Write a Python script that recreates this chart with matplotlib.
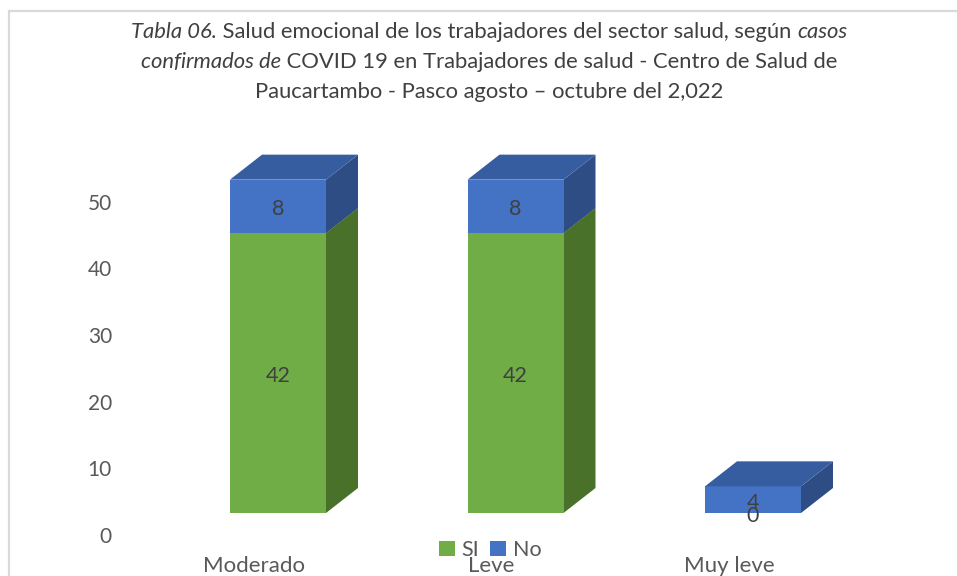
import matplotlib
matplotlib.use("Agg")
import matplotlib.pyplot as plt
from matplotlib.patches import Polygon, Rectangle, Patch

categories = ["Moderado", "Leve", "Muy leve"]
si_values = [42, 42, 0]
no_values = [8, 8, 4]
yticks = [0, 10, 20, 30, 40, 50]
series_names = ["SI", "No"]

FONT = "Lato"
W, H = 957, 576
fig = plt.figure(figsize=(W / 100, H / 100), dpi=100)
ax = fig.add_axes([0, 0, 1, 1])
# pixel mapping: category centre spacing 237.5 px, 6.667 px per unit
x0px, xs = 278.0, 237.5
y0px, ys = 513.0, 6.667
ax.set_xlim(-x0px / xs, (W - x0px) / xs)
ax.set_ylim((y0px - H) / ys, y0px / ys)
ax.axis("off")

bw = 96 / xs
ddx = 32 / xs
ddy = 25 / ys

colors = {
    "SI": ("#70ad47", "#4a7129", "#5a8c38"),
    "No": ("#4472c4", "#2f4d85", "#355d9f"),
}
txtc = "#404040"

for i, cat in enumerate(categories):
    bottom = 0
    for name, vals in (("SI", si_values), ("No", no_values)):
        v = vals[i]
        front, side, top = colors[name]
        xl, xr = i - bw / 2, i + bw / 2
        if v > 0:
            b, t = bottom, bottom + v
            ax.add_patch(Polygon([(xr, b), (xr + ddx, b + ddy), (xr + ddx, t + ddy), (xr, t)],
                                 closed=True, facecolor=side, edgecolor="none"))
            ax.add_patch(Rectangle((xl, b), bw, v, facecolor=front, edgecolor="none"))
            ax.add_patch(Polygon([(xl, t), (xr, t), (xr + ddx, t + ddy), (xl + ddx, t + ddy)],
                                 closed=True, facecolor=top, edgecolor="none"))
        ax.text(i, bottom + v / 2 - 3 / ys, str(v), ha="center", va="center", fontsize=15.5,
                color=txtc, family=FONT)
        bottom += v

# y tick labels (placed on the back wall)
tick_off = -24 / ys
for t in yticks:
    ax.text(-x0px / xs + 112 / xs, t + tick_off, str(t), ha="right", va="center",
            fontsize=15, color="#595959", family=FONT)

# category labels
for i, cat in enumerate(categories):
    ax.text(i - 24 / xs, -53 / ys, cat, ha="center", va="center", fontsize=16,
            color="#595959", family=FONT)

# legend
handles = [Patch(facecolor=colors[n][0], edgecolor="none") for n in series_names]
fig.legend(handles, series_names, loc="center", bbox_to_anchor=(490 / W, 1 - 550 / H),
           ncol=2, frameon=False, prop={"family": FONT, "size": 15.5},
           handlelength=0.75, handleheight=0.75, handletextpad=0.3, columnspacing=0.5,
           labelcolor="#595959")

# border
fig.patches.append(Rectangle((8.5 / W, -0.1), 1.2, 1 - 10.5 / H + 0.1, transform=fig.transFigure,
                             fill=False, edgecolor="#d9d9d9", linewidth=1.6))

# title with mixed italic
lines = [
    [("Tabla 06.", "italic"), (" Salud emocional de los trabajadores del sector salud, según ", "normal"), ("casos", "italic")],
    [("confirmados de", "italic"), (" COVID 19 en Trabajadores de salud - Centro de Salud de", "normal")],
    [("Paucartambo - Pasco agosto \u2013 octubre del 2,022", "normal")],
]
line_y = [32, 62, 92]
renderer = fig.canvas.get_renderer()
cx = 489
for parts, ly in zip(lines, line_y):
    texts = []
    x = 0
    for s, st in parts:
        tt = fig.text(x / W, 1 - ly / H, s, ha="left", va="center", fontsize=15.8,
                      style=st, color=txtc, family=FONT)
        bb = tt.get_window_extent(renderer)
        texts.append((tt, x))
        x += bb.width
    start = cx - x / 2
    for tt, xo in texts:
        tt.set_x((start + xo) / W)

fig.savefig("out.png", dpi=100)
